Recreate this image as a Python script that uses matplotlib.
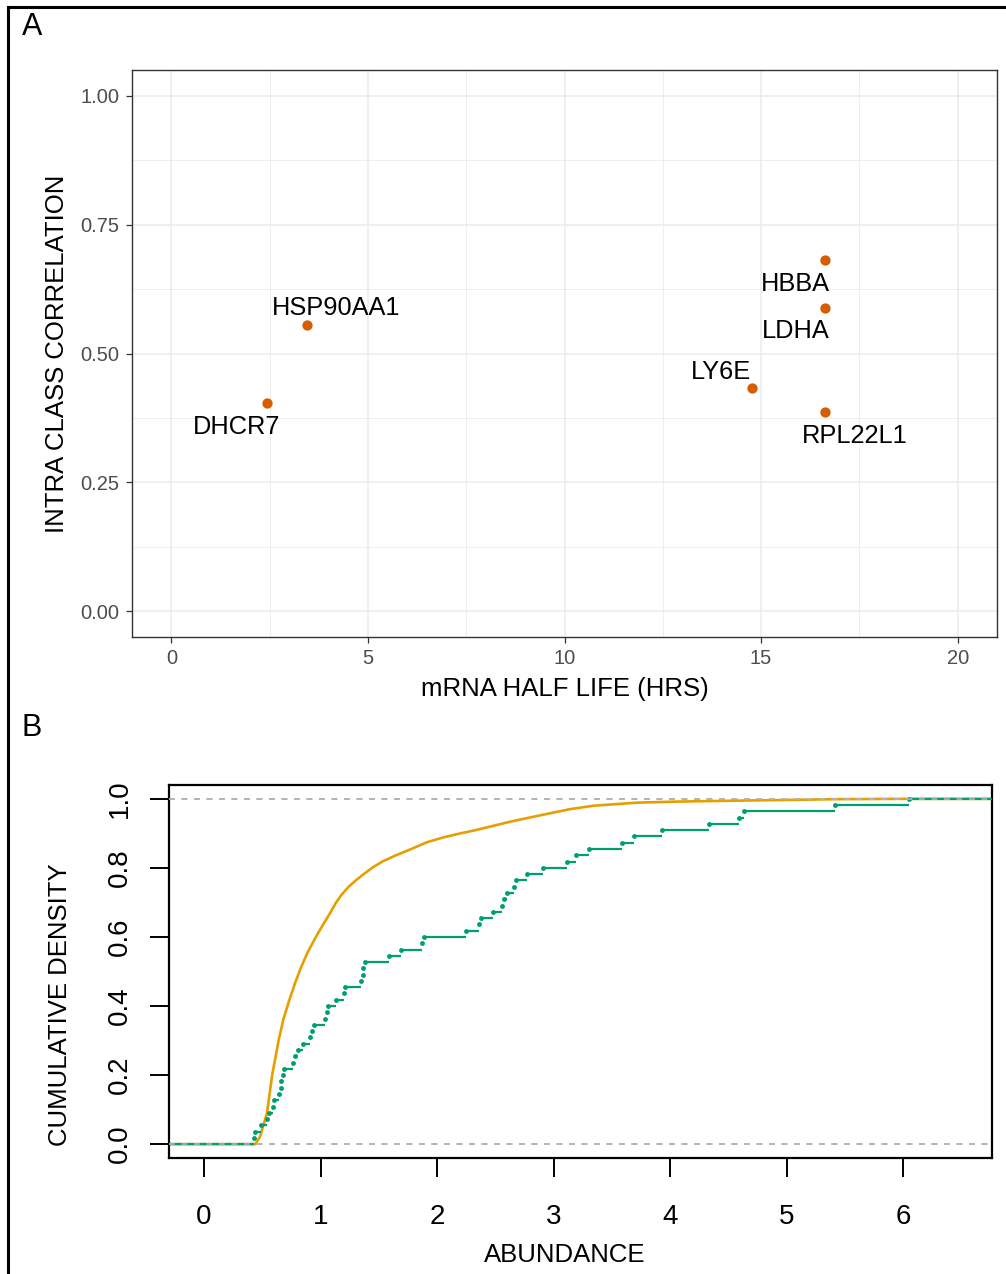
import matplotlib
matplotlib.use("Agg")
import matplotlib.pyplot as plt
from matplotlib.lines import Line2D
from matplotlib.ticker import MultipleLocator

plt.rcParams['font.family'] = ['Liberation Sans', 'DejaVu Sans']

# ---- Panel A: transcript stability vs. intra class correlation ----
genes = ["DHCR7", "HSP90AA1", "LY6E", "HBBA", "LDHA", "RPL22L1"]
half_life_hrs = [2.44, 3.46, 14.77, 16.63, 16.63, 16.63]
icc = [0.403, 0.556, 0.434, 0.682, 0.589, 0.386]

# ---- Panel B: cumulative abundance distributions ----
# dense set: curve traced as (abundance, cumulative density) pairs
abund_all = [0.44, 0.48, 0.54, 0.585, 0.64, 0.68, 0.73, 0.78, 0.83, 0.89,
             0.96, 1.02, 1.08, 1.13, 1.18, 1.24, 1.30, 1.37, 1.45, 1.54,
             1.65, 1.76, 1.91, 2.05, 2.20, 2.34, 2.63, 2.91, 3.14, 3.34,
             3.72, 4.06, 4.63, 5.06, 5.43, 6.05]
cum_all = [0.0, 0.021, 0.089, 0.200, 0.300, 0.360, 0.415, 0.465, 0.510, 0.556,
           0.600, 0.635, 0.668, 0.698, 0.722, 0.745, 0.763, 0.782, 0.802, 0.820,
           0.837, 0.852, 0.874, 0.888, 0.900, 0.910, 0.934, 0.954, 0.970, 0.980,
           0.989, 0.992, 0.995, 0.997, 0.999, 1.0]

# sparse set: individual observations (sorted)
abund_subset = [0.425, 0.44, 0.49, 0.54, 0.56, 0.595, 0.605, 0.64, 0.66, 0.665,
                0.675, 0.69, 0.76, 0.78, 0.81, 0.85, 0.91, 0.93, 0.94, 1.04,
                1.057, 1.06, 1.13, 1.20, 1.21, 1.35, 1.36, 1.36, 1.38, 1.59,
                1.69, 1.87, 1.89, 2.25, 2.36, 2.38, 2.48, 2.56, 2.57, 2.60,
                2.66, 2.68, 2.77, 2.91, 3.11, 3.19, 3.30, 3.59, 3.69, 3.93,
                4.33, 4.59, 4.63, 5.41, 6.05]

W, H = 1006, 1274
fig = plt.figure(figsize=(W / 100, H / 100), dpi=100)

# outer frame (top and left edges)
fig.add_artist(Line2D([8 / W, 1.0], [1 - 7 / H, 1 - 7 / H], color='black', lw=2.2,
                      transform=fig.transFigure))
fig.add_artist(Line2D([8 / W, 8 / W], [0.0, 1 - 7 / H], color='black', lw=2.2,
                      transform=fig.transFigure))

fig.text(22 / W, 1 - 27 / H, "A", fontsize=22, ha='left', va='center')
fig.text(22 / W, 1 - 728 / H, "B", fontsize=22, ha='left', va='center')

# ---------------- Panel A ----------------
ax1 = fig.add_axes([132 / W, 1 - 637 / H, 865 / W, 567 / H])
ax1.set_xlim(-1, 21)
ax1.set_ylim(-0.05, 1.05)
ax1.xaxis.set_major_locator(MultipleLocator(5))
ax1.xaxis.set_minor_locator(MultipleLocator(2.5))
ax1.yaxis.set_major_locator(MultipleLocator(0.25))
ax1.yaxis.set_minor_locator(MultipleLocator(0.125))
ax1.set_yticks([0, 0.25, 0.5, 0.75, 1.0])
ax1.set_yticklabels(["0.00", "0.25", "0.50", "0.75", "1.00"])
ax1.grid(which='major', color='#EBEBEB', lw=1.1)
ax1.grid(which='minor', color='#EBEBEB', lw=0.6)
ax1.set_axisbelow(True)
for sp in ax1.spines.values():
    sp.set_color('#333333')
    sp.set_linewidth(1.0)
ax1.tick_params(which='major', color='#333333', length=4, width=0.9,
                labelcolor='#4D4D4D', labelsize=14.5, pad=5)
ax1.tick_params(which='minor', length=0)

ax1.scatter(half_life_hrs, icc, s=55, color='#D55E00', zorder=3, linewidths=0)

label_offsets = [(-22, -15), (21, 13.5), (-22.5, 13), (-21.5, -15.5),
                 (-21.5, -15), (21.5, -15.5)]
for g, x, y, (dx, dy) in zip(genes, half_life_hrs, icc, label_offsets):
    ax1.annotate(g, (x, y), xytext=(dx, dy), textcoords='offset points',
                 ha='center', va='center_baseline', fontsize=18.3, color='black')

ax1.set_xlabel("mRNA HALF LIFE (HRS)", fontsize=18.5, labelpad=6)
ax1.set_ylabel("INTRA CLASS CORRELATION", fontsize=18.5, labelpad=8)

# ---------------- Panel B ----------------
ax2 = fig.add_axes([169 / W, 1 - 1158 / H, 823 / W, 373 / H])
xmin, xmax = -0.30, 6.76
ax2.set_xlim(xmin, xmax)
ax2.set_ylim(-0.04, 1.04)

orange = '#E69F00'
green = '#009E73'
ref_gray = '#B3B3B3'
dash = (0, (3.5, 4))

# dense distribution
ax2.plot([xmin] + abund_all + [xmax], [0.0] + cum_all + [1.0],
         color=orange, lw=1.9, zorder=2)
ax2.axhline(0, color=ref_gray, ls=dash, lw=1.2, zorder=3)
ax2.axhline(1, color=ref_gray, ls=dash, lw=1.2, zorder=3)

# step ECDF of the sparse set: horizontal treads plus a dot at each jump
n = len(abund_subset)
levels = [i / n for i in range(n + 1)]
starts = [xmin] + abund_subset
ends = abund_subset + [xmax]
ax2.hlines(levels, starts, ends, color=green, lw=1.6, zorder=4)
ax2.plot(abund_subset, levels[1:], 'o', color=green, ms=3.5, mew=0, zorder=5)
ax2.axhline(0, color=ref_gray, ls=dash, lw=1.2, zorder=6)
ax2.axhline(1, color=ref_gray, ls=dash, lw=1.2, zorder=6)

ax2.set_xticks(range(0, 7))
ax2.set_yticks([0, 0.2, 0.4, 0.6, 0.8, 1.0])
ax2.set_yticklabels(["0.0", "0.2", "0.4", "0.6", "0.8", "1.0"])
for sp in ax2.spines.values():
    sp.set_color('black')
    sp.set_linewidth(1.6)
ax2.tick_params(axis='both', color='black', length=14, width=1.4, labelsize=20,
                labelcolor='black')
ax2.tick_params(axis='x', pad=19)
ax2.tick_params(axis='y', pad=12, labelrotation=90)
for lab in ax2.get_yticklabels():
    lab.set_va('center')
    lab.set_ha('right')

ax2.set_xlabel("ABUNDANCE", fontsize=18.5)
ax2.xaxis.set_label_coords((565 - 169) / 823, -0.227)
ax2.set_ylabel("CUMULATIVE DENSITY", fontsize=18.5)
ax2.yaxis.set_label_coords(-(169 - 72) / 823, (1158 - 1005) / 373)

fig.savefig("out.png", dpi=100)
